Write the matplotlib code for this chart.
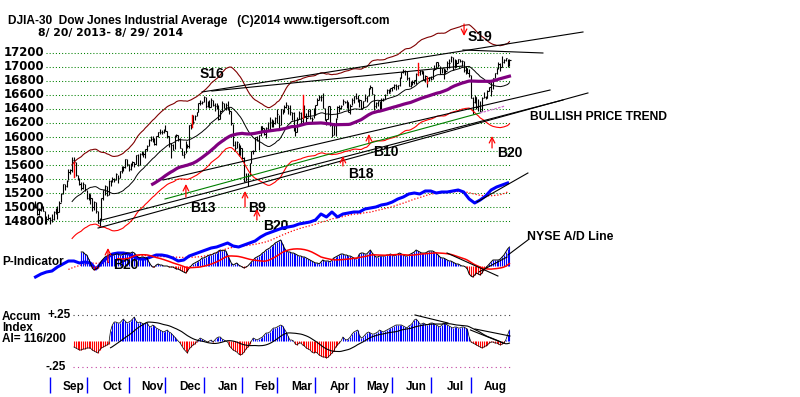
import numpy as np
import pandas as pd
import matplotlib
matplotlib.use('Agg')
import matplotlib.pyplot as plt

# trading days 8/20/2013 - 8/29/2014
holidays = pd.to_datetime(['2013-09-02', '2013-11-28', '2013-12-25', '2014-01-01', '2014-01-20',
                           '2014-02-17', '2014-04-18', '2014-05-26', '2014-07-04'])
days = pd.bdate_range('2013-08-20', '2014-08-29')
days = days[~days.isin(holidays)]

# DJIA daily bars, one line per month
close = [
    15002, 14897, 14963, 15010, 14946, 14776, 14824, 14840, 14810,
    14834, 14930, 14938, 14922, 15063, 15191, 15326, 15300, 15376, 15494, 15529, 15676, 15637, 15452, 15401, 15334, 15273, 15328, 15258, 15130,
    15191, 15133, 14996, 15073, 14936, 14776, 14803, 15126, 15237, 15301, 15168, 15374, 15372, 15400, 15392, 15468, 15413, 15509, 15570, 15569, 15680, 15618, 15546,
    15616, 15639, 15618, 15747, 15594, 15762, 15784, 15751, 15822, 15876, 15962, 15976, 15968, 15900, 16010, 16065, 16073, 16073, 16098, 16086,
    16008, 15915, 15889, 15821, 16020, 16026, 15974, 15844, 15740, 15755, 15885, 15875, 16168, 16180, 16221, 16295, 16358, 16479, 16479, 16505, 16577,
    16441, 16470, 16426, 16531, 16463, 16445, 16437, 16257, 16374, 16482, 16418, 16459, 16415, 16373, 16198, 15879, 15837, 15928, 15739, 15849, 15699,
    15373, 15445, 15441, 15629, 15795, 15802, 15994, 15964, 16028, 16154, 16130, 16041, 16134, 16104, 16208, 16180, 16199, 16273, 16322,
    16169, 16396, 16361, 16422, 16453, 16419, 16351, 16341, 16109, 16066, 16248, 16337, 16223, 16332, 16303, 16276, 16368, 16268, 16264, 16323, 16458,
    16533, 16573, 16573, 16413, 16246, 16257, 16438, 16171, 16027, 16174, 16263, 16425, 16409, 16449, 16514, 16502, 16501, 16362, 16449, 16535, 16581,
    16559, 16513, 16531, 16402, 16518, 16551, 16584, 16696, 16715, 16614, 16447, 16492, 16512, 16374, 16533, 16543, 16607, 16676, 16634, 16699, 16717,
    16743, 16723, 16738, 16837, 16925, 16944, 16945, 16843, 16735, 16776, 16782, 16809, 16907, 16922, 16948, 16938, 16819, 16868, 16846, 16852, 16827,
    16957, 16977, 17068, 17025, 16907, 16986, 16915, 16944, 17056, 17061, 17138, 16977, 17100, 17052, 17114, 17087, 17083, 16961, 16983, 16913, 16881, 16563,
    16493, 16569, 16430, 16443, 16368, 16554, 16570, 16561, 16652, 16713, 16663, 16839, 16920, 16980, 17039, 17001, 17077, 17107, 17123, 17080, 17098,
]
high = [
    15080, 15010, 14990, 15040, 15010, 14940, 14870, 14900, 14860,
    14900, 14950, 14980, 15010, 15080, 15200, 15330, 15330, 15390, 15550, 15540, 15710, 15710, 15640, 15460, 15410, 15360, 15360, 15330, 15250,
    15200, 15190, 15130, 15090, 15070, 14940, 14840, 15130, 15250, 15320, 15300, 15380, 15390, 15430, 15420, 15480, 15460, 15510, 15580, 15590, 15690, 15690, 15620,
    15630, 15660, 15650, 15750, 15760, 15770, 15800, 15780, 15830, 15880, 15970, 16010, 16010, 15980, 16020, 16070, 16110, 16100, 16110, 16170,
    16080, 16010, 15920, 15900, 16030, 16050, 16030, 15980, 15850, 15800, 15950, 15900, 16170, 16190, 16320, 16320, 16360, 16480, 16530, 16520, 16590,
    16570, 16520, 16530, 16560, 16530, 16490, 16480, 16450, 16390, 16510, 16490, 16490, 16520, 16420, 16370, 16190, 15940, 15950, 15920, 15880, 15850,
    15710, 15480, 15480, 15630, 15800, 15810, 16000, 16010, 16030, 16160, 16160, 16130, 16140, 16210, 16280, 16250, 16240, 16280, 16400,
    16320, 16400, 16400, 16450, 16500, 16450, 16460, 16360, 16350, 16140, 16280, 16370, 16360, 16340, 16460, 16340, 16400, 16400, 16290, 16410, 16460,
    16560, 16600, 16600, 16630, 16410, 16260, 16440, 16440, 16170, 16200, 16270, 16440, 16460, 16450, 16540, 16520, 16530, 16500, 16470, 16550, 16590,
    16630, 16600, 16540, 16530, 16520, 16620, 16590, 16700, 16740, 16720, 16610, 16500, 16520, 16510, 16560, 16560, 16610, 16680, 16680, 16700, 16720,
    16750, 16750, 16740, 16850, 16930, 16970, 16950, 16940, 16860, 16800, 16820, 16820, 16910, 16960, 16950, 16960, 16940, 16880, 16860, 16860, 16870,
    16970, 17030, 17070, 17070, 17010, 16990, 16980, 16970, 17090, 17120, 17150, 17140, 17110, 17100, 17120, 17120, 17100, 17080, 17010, 16990, 16970, 16880,
    16570, 16600, 16570, 16540, 16520, 16570, 16640, 16580, 16670, 16720, 16800, 16840, 16920, 16980, 17070, 17050, 17150, 17110, 17130, 17120, 17120,
]
low = [
    14980, 14880, 14880, 14950, 14940, 14760, 14760, 14810, 14760,
    14780, 14820, 14900, 14830, 14930, 15070, 15190, 15250, 15290, 15380, 15470, 15500, 15620, 15440, 15380, 15320, 15250, 15260, 15230, 15110,
    15100, 15050, 14950, 14960, 14920, 14770, 14720, 14810, 15100, 15170, 15160, 15170, 15300, 15360, 15360, 15380, 15340, 15410, 15490, 15520, 15560, 15590, 15520,
    15530, 15590, 15570, 15610, 15590, 15600, 15740, 15710, 15700, 15800, 15870, 15950, 15930, 15880, 15880, 16000, 16040, 16040, 16060, 16080,
    15990, 15860, 15700, 15810, 15830, 16000, 15950, 15840, 15740, 15700, 15770, 15840, 15840, 16110, 16180, 16240, 16300, 16360, 16450, 16470, 16500,
    16420, 16430, 16410, 16430, 16440, 16370, 16400, 16240, 16260, 16370, 16410, 16380, 16380, 16330, 16170, 15870, 15800, 15840, 15730, 15740, 15690,
    15360, 15370, 15300, 15440, 15630, 15760, 15800, 15940, 15820, 16010, 16070, 16030, 15990, 16100, 16100, 16140, 16140, 16180, 16200,
    16110, 16170, 16330, 16350, 16410, 16330, 16310, 16240, 16080, 16020, 16070, 16250, 16190, 16180, 16280, 16200, 16280, 16260, 16210, 16270, 16320,
    16460, 16530, 16520, 16410, 16240, 16170, 16260, 16150, 16000, 16030, 16020, 16270, 16360, 16400, 16450, 16490, 16420, 16350, 16330, 16450, 16490,
    16540, 16500, 16430, 16400, 16410, 16520, 16500, 16590, 16680, 16610, 16380, 16420, 16440, 16370, 16380, 16520, 16540, 16610, 16630, 16640, 16660,
    16690, 16670, 16680, 16730, 16840, 16910, 16880, 16810, 16730, 16720, 16740, 16750, 16760, 16910, 16890, 16900, 16810, 16790, 16720, 16800, 16810,
    16830, 16950, 16980, 17000, 16900, 16910, 16830, 16910, 16950, 16990, 17070, 16960, 16980, 17000, 17050, 17070, 17010, 16930, 16900, 16910, 16850, 16560,
    16330, 16490, 16400, 16370, 16350, 16370, 16550, 16540, 16550, 16650, 16580, 16680, 16840, 16900, 16970, 16940, 17000, 17050, 17080, 17000, 17020,
]

# P-Indicator (arbitrary units), starts at trading day 25
P_START = 25
p_ind = [
    14, 14, 12, 11, 7, 3, -2, -4, -3, -2,
    2, 5, 7, 9, 10, 11, 12, 11, 11, 12,
    12, 11, 11, 12, 12, 13, 13, 13, 14, 13,
    11, 9, 8, 9, 9, 8, 8, 4, 1, -1,
    -1, 1, 2, 1, 1, 0, 0, 0, -1, -1,
    -1, -2, -3, -3, -4, -5, -6, -7, -5, -2,
    0, 2, 3, 4, 5, 6, 8, 8, 9, 10,
    11, 11, 12, 13, 13, 15, 16, 15, 16, 15,
    11, 7, 3, 1, 2, 3, 1, 0, -1, -2,
    -1, 0, 2, 4, 6, 8, 9, 10, 11, 13,
    14, 16, 17, 18, 20, 21, 23, 24, 25, 26,
    22, 18, 15, 14, 14, 13, 13, 12, 11, 10,
    10, 9, 9, 8, 7, 6, 5, 4, 3, 3,
    2, 4, 6, 5, 5, 5, 4, 6, 8, 9,
    10, 11, 12, 12, 11, 11, 10, 10, 9, 8,
    7, 8, 12, 13, 13, 12, 12, 14, 16, 13,
    11, 9, 9, 10, 10, 10, 10, 11, 11, 12,
    11, 10, 11, 12, 13, 12, 11, 10, 10, 11,
    12, 13, 14, 16, 15, 14, 13, 13, 13, 14,
    15, 15, 15, 14, 13, 11, 9, 8, 8, 7,
    6, 5, 5, 4, 3, 2, 2, 1, 0, 0,
    -1, -3, -8, -10, -11, -9, -7, -8, -9, -7,
    -4, -2, 0, 2, 4, 6, 6, 6, 6, 7,
    9, 11, 14, 17, 19,
]

# Accumulation index (26 units = .25), starts at trading day 21
AI_START = 21
accum = [
    -6, -7, -8, -9, -9, -8, -8, -7, -7, -7,
    -9, -10, -11, -12, -9, -7, -6, -5, -4, -3,
    10, 16, 19, 19, 18, 18, 20, 22, 20, 18,
    19, 20, 22, 24, 20, 18, 19, 18, 17, 18,
    18, 15, 14, 16, 15, 13, 12, 11, 10, 9,
    10, 11, 9, 8, 6, 4, 2, 0, -2, -5,
    -8, -10, -12, -8, -6, -4, -3, -1, 1, 3,
    2, 1, 0, -1, 0, 1, -1, 1, 3, 4,
    4, 2, 1, 0, -1, -5, -7, -9, -10, -11,
    -13, -14, -13, -11, -8, -6, -3, 0, 3, 2,
    1, 2, 3, 4, 6, 8, 8, 9, 11, 13,
    13, 14, 15, 16, 15, 12, 9, 5, 1, 1,
    0, -3, -4, -2, -2, -4, -5, -7, -8, -9,
    -11, -12, -11, -12, -14, -15, -16, -16, -17, -16,
    -14, -12, -10, -6, -4, -2, 0, 4, 2, 1,
    2, 4, 7, 9, 10, 11, 6, 3, 4, 6,
    8, 9, 8, 7, 7, 8, 9, 11, 10, 9,
    10, 11, 12, 13, 14, 15, 16, 16, 16, 16,
    15, 14, 13, 15, 16, 18, 21, 22, 20, 17,
    17, 18, 17, 16, 17, 18, 18, 17, 16, 15,
    14, 16, 18, 17, 16, 15, 14, 13, 14, 14,
    13, 13, 14, 14, 13, 12, 4, -1, -2, -3,
    -4, -5, -6, -7, -6, -5, -4, -2, -1, -1,
    -2, -2, -3, -4, -3, -2, 1, 6, 11,
]

# NYSE A/D line (arbitrary units), every 3rd trading day
AD_STEP = 3
ad_line = [
    23, 26, 28, 29, 33, 36, 39, 39, 37, 38,
    37, 31, 37, 42, 46, 47, 47, 46, 43, 41,
    41, 43, 45, 45, 44, 42, 39, 40, 44, 46,
    48, 50, 52, 53, 55, 57, 54, 53, 55, 57,
    59, 63, 66, 68, 70, 72, 73, 74, 76, 77,
    78, 80, 86, 83, 88, 83, 86, 87, 88, 88,
    91, 92, 93, 95, 96, 98, 101, 103, 106, 107,
    106, 109, 109, 107, 108, 108, 109, 110, 108, 101,
    97, 100, 104, 110, 113, 115, 117,
]

# trend lines on the price chart: (day, price, day, price)
trend_lines = [
    (91.0, 16643, 299.2, 17500),
    (96.4, 16657, 233.6, 17014),
    (233.6, 17243, 277.3, 17200),
    (69.7, 15386, 281.2, 16671),
    (34.2, 14800, 288.3, 16529),
    (34.2, 14700, 301.9, 16629),
]
green_line = (70.8, 15114, 242.9, 16343, 256.6, 16443)

# signals: label, arrow day, arrow tail, arrow head, label day, label price
signals = [
    ('S19', 234.2, 17614, 17443, 236.3, 17429),
    ('B13', 82.2, 15143, 15329, 84.4, 14986),
    ('B9', 114.5, 15000, 15229, 116.1, 14986),
    ('B20', 121.0, 14814, 14971, 124.3, 14729),
    ('B18', 168.0, 15586, 15729, 170.8, 15471),
    ('B10', 182.2, 15914, 16043, 184.4, 15786),
    ('B20', 249.5, 15843, 16014, 252.2, 15771),
]
red_marks = [(21.0, 15643, 15429), (85.5, 16314, 16143), (146.2, 16600, 16271),
             (209.0, 17057, 16886), (213.9, 16857, 16771)]

W, H = 800, 397
fig = plt.figure(figsize=(W / 100, H / 100), dpi=100)
fig.patch.set_facecolor('white')
BOLD = dict(family='Liberation Sans', weight='bold', color='black')
NUM = dict(family='DejaVu Sans', weight='bold', color='black')


def panel(ylim):
    ax = fig.add_axes([0, 0, 1, 1])
    ax.set_xlim(-19.4, 417.8)
    ax.set_ylim(*ylim)
    ax.axis('off')
    ax.patch.set_alpha(0)
    return ax


def ftext(px, py, s, **kw):
    fig.text(px / W, 1 - py / H, s, va='center', **kw)


ax_p = panel((12286, 17957))
ax_ad = panel((-97, 300))
ax_pi = panel((-131, 266))
ax_ai = panel((-56, 341))

# price panel
x = np.arange(len(close))
levels = np.arange(14800, 17201, 200)
ax_p.hlines(levels, 6, 259.5, colors='#008000', linestyles=(0, (1, 2)), lw=0.75)
for lv in levels:
    ax_p.text(0.005, lv, str(lv), transform=ax_p.get_yaxis_transform(), va='center', fontsize=8.5, **NUM)

ax_p.vlines(x, low, high, colors='black', lw=0.8)
ax_p.hlines(close, x, x + 0.7, colors='black', lw=0.8)

c = pd.Series(close, dtype=float)
ma21 = c.rolling(21).mean()
ma65 = c.rolling(65).mean()
ax_p.plot(x, ma21, color='black', lw=0.7)
ax_p.plot(x, ma21 * 1.035, color='#800000', lw=0.8)
ax_p.plot(x, ma21 * 0.965, color='#ff0000', lw=0.8)
ax_p.plot(x, ma65, color='#800080', lw=2.3)

for x0, y0, x1, y1 in trend_lines:
    ax_p.plot([x0, x1], [y0, y1], color='black', lw=0.8)
g = green_line
ax_p.plot([g[0], g[2]], [g[1], g[3]], color='#008000', lw=0.8)
ax_p.plot([g[2], g[4]], [g[3], g[5]], color='#d070d0', lw=0.9, ls=(0, (2, 1)))

for d, top, bot in red_marks:
    ax_p.plot([d, d], [bot, top], color='red', lw=1)
for lab, d, tail, head, ld, lp in signals:
    ax_p.annotate('', xy=(d, head), xytext=(d, tail),
                  arrowprops=dict(arrowstyle='->', color='red', lw=0.9, shrinkA=0, shrinkB=0))
    ax_p.text(ld, lp, lab, va='center', fontsize=10, **BOLD)
ax_p.text(89.9, 16900, 'S16', va='center', fontsize=10, **BOLD)

# NYSE A/D line
ad = pd.Series(ad_line, dtype=float)
xad = np.arange(len(ad)) * AD_STEP
ax_ad.plot(xad, ad.rolling(7).mean(), color='red', lw=0.9, ls=(0, (1, 1.5)))
ax_ad.plot(xad, ad, color='#0000ff', lw=2.2)
ax_ad.plot([241.3, 269.1], [98, 127], color='black', lw=0.8)

# P-Indicator
p = pd.Series(p_ind, dtype=float)
xp = np.arange(len(p)) + P_START
ax_pi.vlines(xp, 0, p, colors=np.where(p >= 0, '#0000ff', '#ff0000'), lw=0.8)
ax_pi.plot(xp, p, color='black', lw=0.7)
ax_pi.plot(xp, p.rolling(21).mean(), color='red', lw=1.1)
ax_pi.plot([224.9, 252.7], [13, -10], color='black', lw=0.8)
ax_pi.plot([242.3, 257.7], [-6, 9], color='black', lw=0.8)
ax_pi.plot([258.2, 269.1], [11, 26], color='black', lw=0.8)
ax_pi.annotate('', xy=(39.6, 18), xytext=(39.6, 4),
               arrowprops=dict(arrowstyle='->', color='red', lw=0.9, shrinkA=0, shrinkB=0))
ax_pi.text(42.3, 1, 'B20', va='center', fontsize=10, **BOLD)

# Accumulation index
a = pd.Series(accum, dtype=float)
xa = np.arange(len(a)) + AI_START
ax_ai.hlines([26], 20.5, 259.5, colors='#404040', linestyles=(0, (1, 3)), lw=0.8)
ax_ai.hlines([-26], 20.5, 259.5, colors='#c040a0', linestyles=(0, (1, 3)), lw=0.8)
ax_ai.vlines(xa, 0, a, colors=np.where(a >= 0, '#0000ff', '#ff0000'), lw=0.8)
ax_ai.plot(xa, a, color='black', lw=0.5)
ax_ai.plot(xa, a.rolling(21).mean(), color='black', lw=0.8)
ax_ai.plot([207.4, 225.4], [26, 18], color='black', lw=0.8)
ax_ai.plot([240.2, 259.3], [12, 5], color='black', lw=0.8)
ax_ai.plot([237.7, 255.5], [11, -2], color='black', lw=0.8)

# month separators and names
month_start = [i for i in range(1, len(days)) if days[i].month != days[i - 1].month]
ax_ai.vlines(np.array(month_start) - 1, -52, -36, colors='#0000ff', lw=1)
edges = month_start + [len(days)]
for s, e in zip(edges[:-1], edges[1:]):
    ax_ai.text((s + e) / 2 + 1.7, -46, days[s].strftime('%b'), ha='center', va='center', fontsize=8.5, **BOLD)

# texts
ftext(8, 21, 'DJIA-30  Dow Jones Industrial Average   (C)2014 www.tigersoft.com', fontsize=8.6, **BOLD)
ftext(38, 33, '8/ 20/ 2013- 8/ 29/ 2014', fontsize=7.8, **NUM)
ftext(530, 117, 'BULLISH PRICE TREND', fontsize=8.7, **BOLD)
ftext(527, 237, 'NYSE A/D Line', fontsize=8.8, **BOLD)
ftext(2, 262, 'P-Indicator', fontsize=8.5, **BOLD)
ftext(2, 317, 'Accum', fontsize=8.5, **BOLD)
ftext(2, 328, 'Index', fontsize=8.5, **BOLD)
ftext(2, 339, 'AI= 116/200', fontsize=8.5, **BOLD)
ftext(47, 315, '+.25', fontsize=8.5, **BOLD)
ftext(45, 367, '-.25', fontsize=8.5, **BOLD)

fig.savefig('out.png', dpi=100)
